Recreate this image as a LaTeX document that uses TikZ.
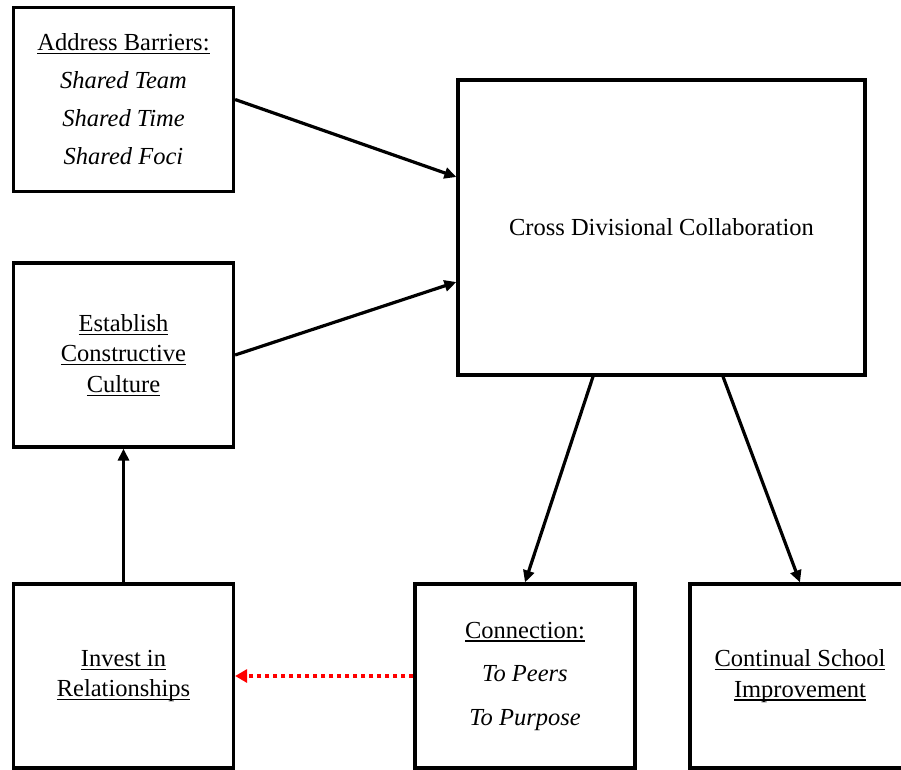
\documentclass[tikz,border=0pt]{standalone}
\usepackage{fontspec}
\setmainfont{Liberation Serif}
\usepackage{tikz}
\usetikzlibrary{arrows.meta}
\newlength{\ulwidth}
\newcommand{\ulword}[1]{\settowidth{\ulwidth}{#1}\rlap{\rule[-3.5pt]{\ulwidth}{1.2pt}}#1}

\begin{document}
\begin{tikzpicture}[x=1pt, y=-1pt,
  box/.style={draw, line width=3.2pt, align=center, font=\fontsize{24.5}{30.5}\selectfont, minimum width=220pt, minimum height=184pt, inner sep=0pt},
  arr/.style={-{Triangle[length=12pt, width=11pt]}, line width=3.2pt},
  backarr/.style={-{Triangle[length=12pt, width=13pt]}, line width=3.4pt, red, dash pattern=on 4pt off 4pt}]
\useasboundingbox (0,0) rectangle (901,769);
\node[box] (barriers) at (123.5,99.5) {\ulword{Address Barriers:}\\[7.5pt]\textit{Shared Team}\\[7.5pt]\textit{Shared Time}\\[7.5pt]\textit{Shared Foci}};
\node[box] (culture) at (123.5,355) {\ulword{Establish}\\\ulword{Constructive}\\\ulword{Culture}};
\node[box, minimum width=407pt, minimum height=295pt] (collab) at (661.5,227.5) {Cross Divisional Collaboration};
\node[box] (invest) at (123.5,676) {\ulword{Invest in}\\\ulword{Relationships}};
\node[box] (connect) at (525,676) {\ulword{Connection:}\\[13pt]\textit{To Peers}\\[13pt]\textit{To Purpose}};
\node[box] (improve) at (800,676) {\ulword{Continual School}\\\ulword{Improvement}};
% arrows into and out of the collaboration box
\draw[arr] (barriers.east) -- ([yshift=50.5pt]collab.west);
\draw[arr] (culture.east) -- ([yshift=-54.5pt]collab.west);
\draw[arr] ([xshift=-68.5pt]collab.south) -- (connect.north);
\draw[arr] ([xshift=61.5pt]collab.south) -- (improve.north);
\draw[arr] (invest) -- (culture);
\draw[backarr] (connect.west) -- (invest.east);
\end{tikzpicture}
\end{document}
